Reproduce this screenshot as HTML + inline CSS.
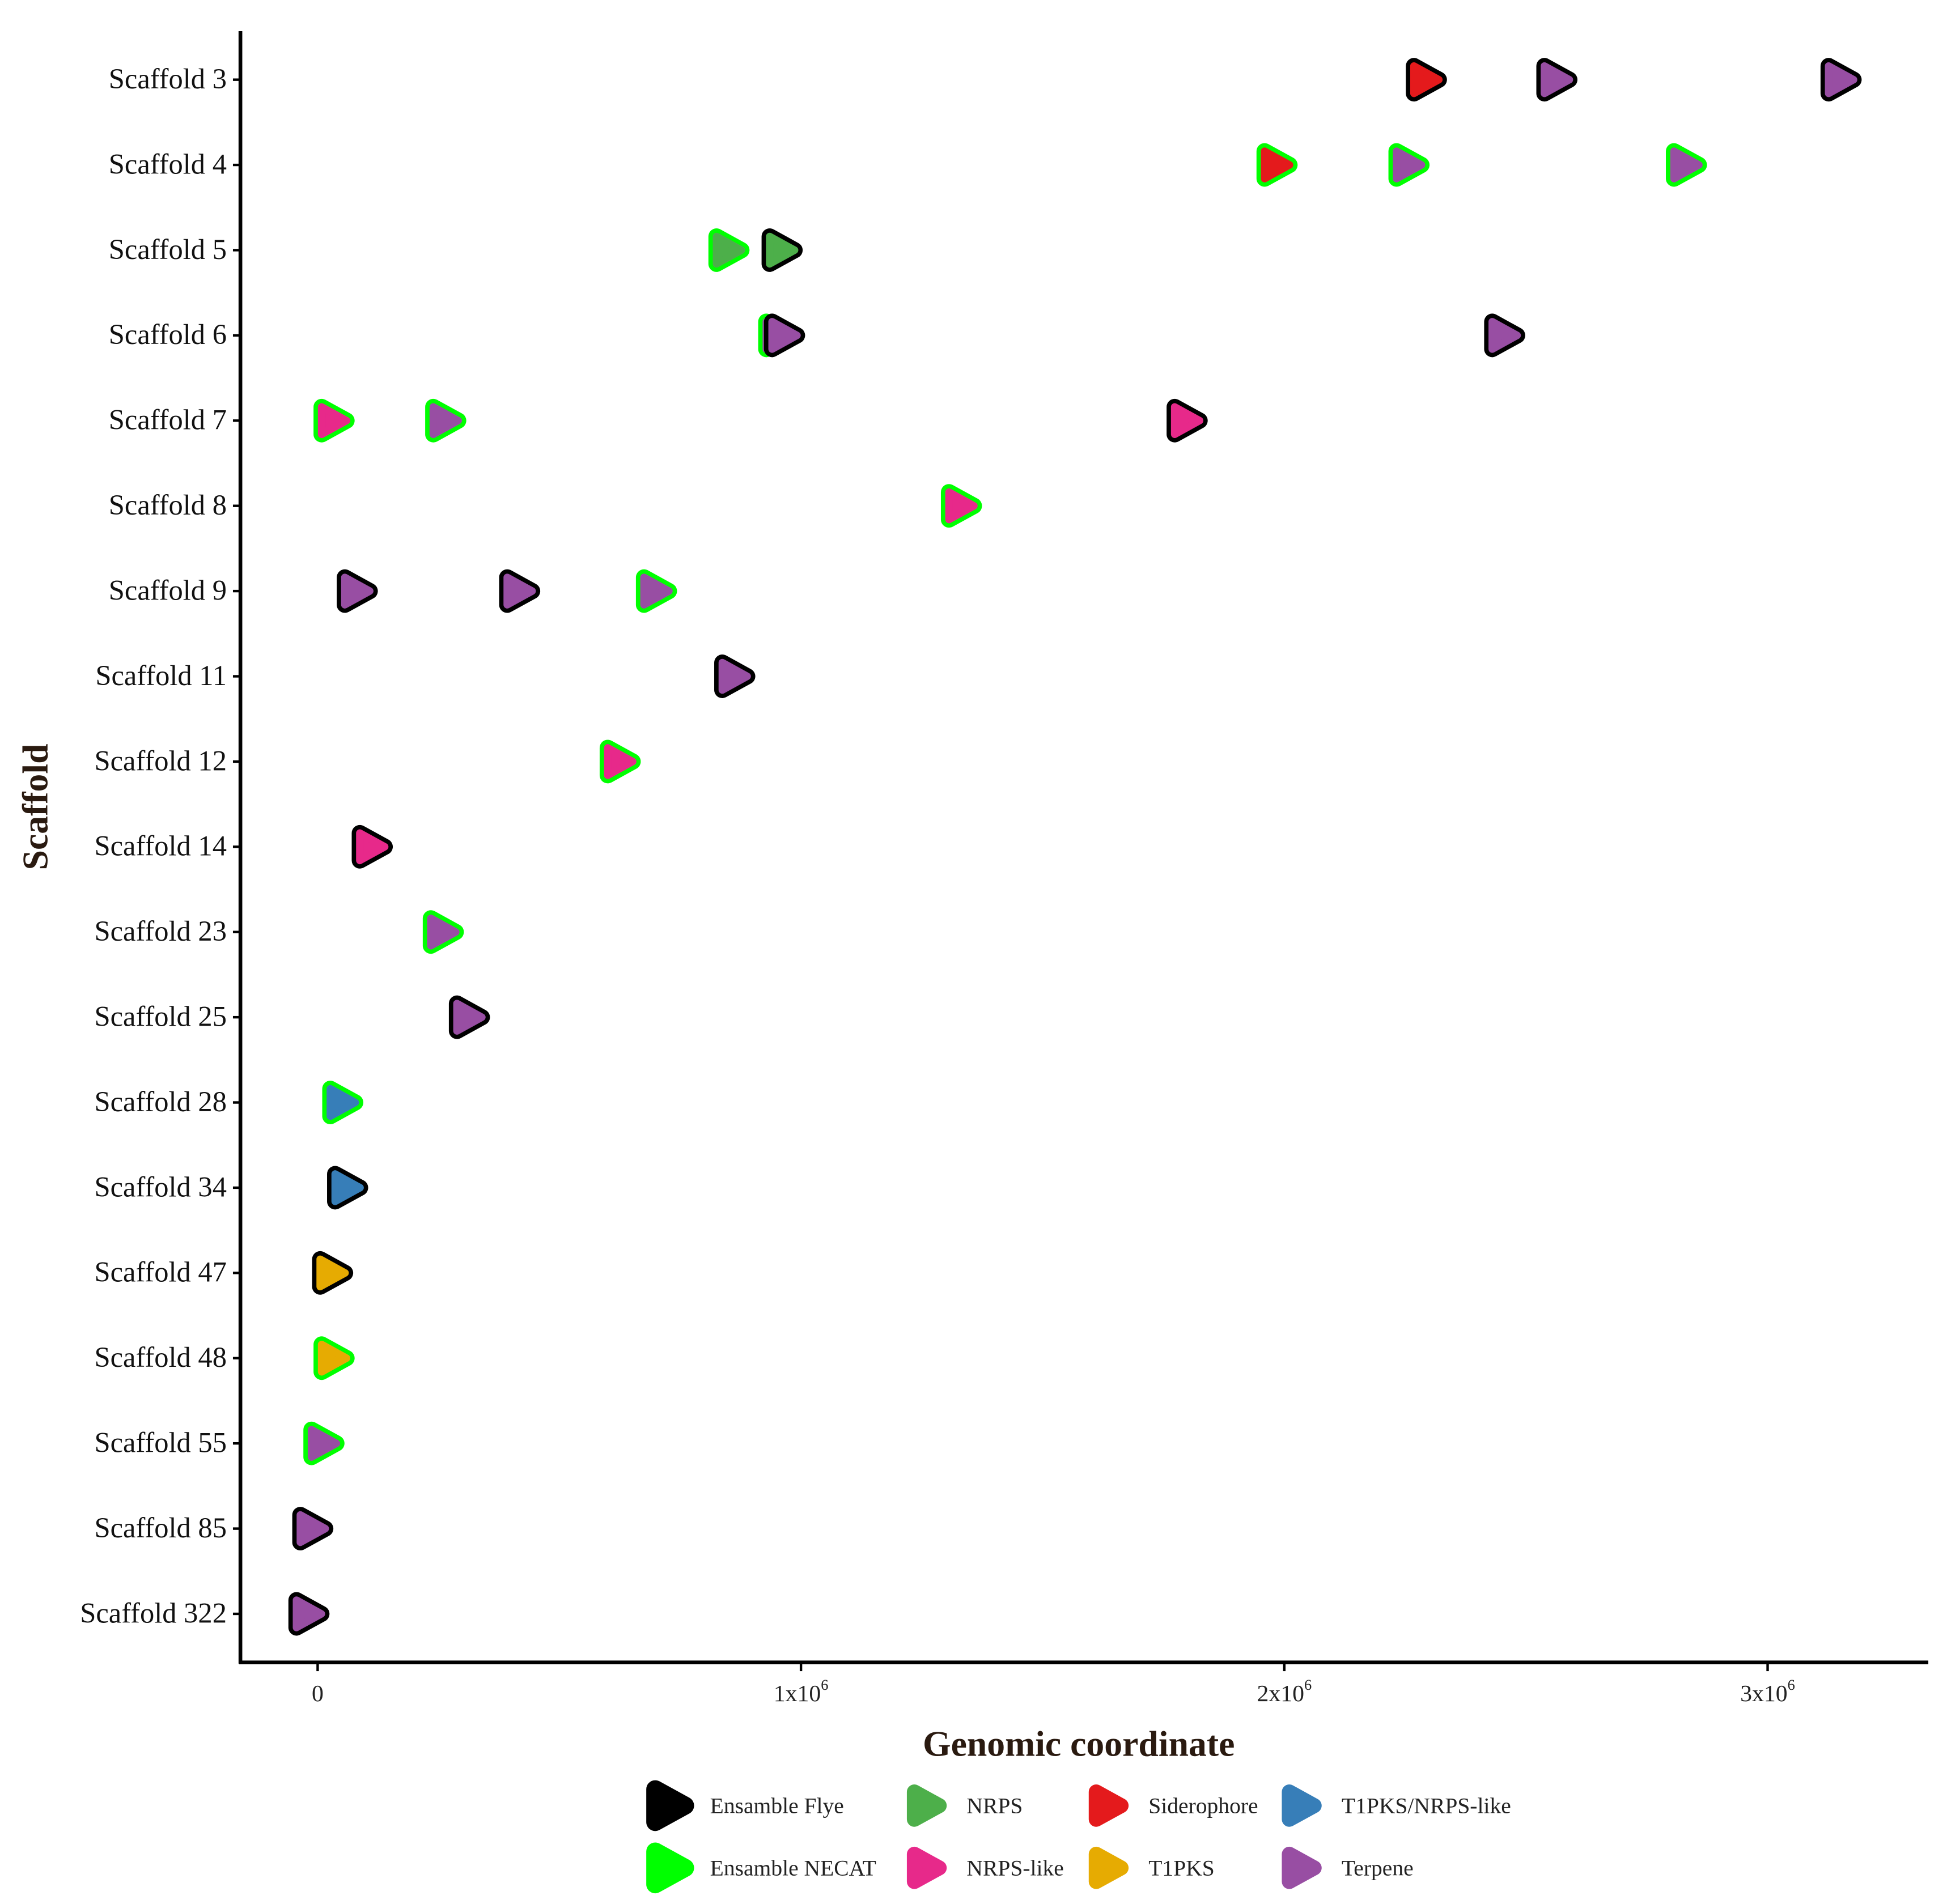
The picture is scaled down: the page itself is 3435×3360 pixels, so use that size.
<!DOCTYPE html>
<html><head><meta charset="utf-8"><style>
html,body{margin:0;padding:0;background:#fff;}
svg{display:block;}
text{font-family:"Liberation Serif",serif;}
</style></head><body>
<svg id="chart" width="3435" height="3360" viewBox="0 0 1563 1529" preserveAspectRatio="none" xmlns="http://www.w3.org/2000/svg">
<g id="axes"></g>
<g id="marks"></g>
<g id="legend"></g>
</svg>
<script>
const scaffolds = ["Scaffold 3","Scaffold 4","Scaffold 5","Scaffold 6","Scaffold 7","Scaffold 8","Scaffold 9","Scaffold 11","Scaffold 12","Scaffold 14","Scaffold 23","Scaffold 25","Scaffold 28","Scaffold 34","Scaffold 47","Scaffold 48","Scaffold 55","Scaffold 85","Scaffold 322"];
const xTicks = [0, 1, 2, 3];
const xTickLabels = ["0", "1x10", "2x10", "3x10"];
const pointScaffold = ["Scaffold 3","Scaffold 3","Scaffold 3","Scaffold 4","Scaffold 4","Scaffold 4","Scaffold 5","Scaffold 5","Scaffold 6","Scaffold 6","Scaffold 6","Scaffold 7","Scaffold 7","Scaffold 7","Scaffold 8","Scaffold 9","Scaffold 9","Scaffold 9","Scaffold 11","Scaffold 12","Scaffold 14","Scaffold 23","Scaffold 25","Scaffold 28","Scaffold 34","Scaffold 47","Scaffold 48","Scaffold 55","Scaffold 85","Scaffold 322"];
const pointPos = [2.294,2.564,3.152,1.985,2.258,2.832,0.851,0.961,0.954,0.966,2.456,0.034,0.265,1.799,1.332,0.082,0.418,0.701,0.863,0.626,0.113,0.260,0.314,0.052,0.062,0.031,0.034,0.013,-0.010,-0.018];
const pointType = ["Siderophore","Terpene","Terpene","Siderophore","Terpene","Terpene","NRPS","NRPS","Terpene","Terpene","Terpene","NRPS-like","Terpene","NRPS-like","NRPS-like","Terpene","Terpene","Terpene","Terpene","NRPS-like","NRPS-like","Terpene","Terpene","T1PKS/NRPS-like","T1PKS/NRPS-like","T1PKS","T1PKS","Terpene","Terpene","Terpene"];
const pointAssembly = ["Flye","Flye","Flye","NECAT","NECAT","NECAT","NECAT","Flye","NECAT","Flye","Flye","NECAT","NECAT","Flye","NECAT","Flye","Flye","NECAT","Flye","NECAT","Flye","NECAT","Flye","NECAT","Flye","Flye","NECAT","NECAT","Flye","Flye"];
const typeNames = ["NRPS","NRPS-like","Siderophore","T1PKS","T1PKS/NRPS-like","Terpene"];
const typeColors = ["#4daf4a","#e7298a","#e41a1c","#e6ab02","#377eb8","#984ea3"];
const NS="http://www.w3.org/2000/svg";
function el(tag, attrs, parent, txt){const e=document.createElementNS(NS,tag);for(const k in attrs)e.setAttribute(k,attrs[k]);if(txt!==undefined)e.textContent=txt;parent.appendChild(e);return e;}
const X0=255, PX=388; function xs(v){return X0+v*PX;}
const Y0=64, DY=(1296-64)/(scaffolds.length-1); function ys(s){return Y0+scaffolds.indexOf(s)*DY;}
const axes=document.getElementById('axes'), marks=document.getElementById('marks'), legend=document.getElementById('legend');
let ln=el('line',{x1:193,y1:25,x2:193,y2:1336,stroke:'#000','stroke-width':3},axes);


ln=el('line',{x1:192,y1:1335,x2:1548,y2:1335,stroke:'#000','stroke-width':3},axes);


scaffolds.forEach(s=>{
  const y=ys(s);
  const t=el('line',{x1:187,y1:y,x2:193,y2:y,stroke:'#000','stroke-width':2},axes);
  
  
  const lb=el('text',{x:182,y:y+7,'text-anchor':'end','font-size':23,fill:'#111'},axes,s);
  
  
});
xTicks.forEach((v,i)=>{
  const x=xs(v);
  const t=el('line',{x1:x,y1:1335,x2:x,y2:1342,stroke:'#000','stroke-width':2},axes);
  
  
  const lb=el('text',{x:x,y:1366,'text-anchor':'middle','font-size':19,fill:'#222'},axes,xTickLabels[i]);
  
  
  if(i>0){el('tspan',{dy:-9,'font-size':12},lb,'6');}
});
let tt=el('text',{x:866,y:1410,'text-anchor':'middle','font-size':29,'font-weight':'bold',fill:'#2a1a10'},axes,'Genomic coordinate');


tt=el('text',{x:0,y:0,'text-anchor':'middle','font-size':29,'font-weight':'bold',fill:'#2a1a10',transform:'translate(38,648) rotate(-90)'},axes,'Scaffold');


function tri(x,y){return `M${x-10},${y-11} L${x+10},${y} L${x-10},${y+11} Z`;}
function marker(parent,x,y,fill,outline){
  const g=el('g',{},parent);
  el('path',{d:tri(x,y),fill:outline,stroke:outline,'stroke-width':13,'stroke-linejoin':'round'},g);
  el('path',{d:tri(x,y),fill:fill,stroke:fill,'stroke-width':6,'stroke-linejoin':'round'},g);
  return g;
}
pointPos.forEach((v,i)=>{
  const c=typeColors[typeNames.indexOf(pointType[i])];
  const o=pointAssembly[i]==='Flye'?'#000':'#00ff00';
  const g=marker(marks,xs(v),ys(pointScaffold[i]),c,o);
  
  
});
const legItems=[["Ensamble Flye","#000",538,1450],["NRPS","#4daf4a",744,1450],["Siderophore","#e41a1c",890,1450],["T1PKS/NRPS-like","#377eb8",1045,1450],["Ensamble NECAT","#00ff00",538,1500],["NRPS-like","#e7298a",744,1500],["T1PKS","#e6ab02",890,1500],["Terpene","#984ea3",1045,1500]];
legItems.forEach(it=>{
  const g=el('g',{},legend);
  
  
  const big=it[0].startsWith('Ensamble');
  const k=big?1.2:1;
  el('path',{d:tri(it[2],it[3]),fill:it[1],stroke:it[1],'stroke-width':12,'stroke-linejoin':'round',transform:`translate(${it[2]},${it[3]}) scale(${k}) translate(${-it[2]},${-it[3]})`},g);
  el('text',{x:it[2]+32,y:it[3]+6,'font-size':18,fill:'#222'},g,it[0]);
});
</script>
</body></html>
